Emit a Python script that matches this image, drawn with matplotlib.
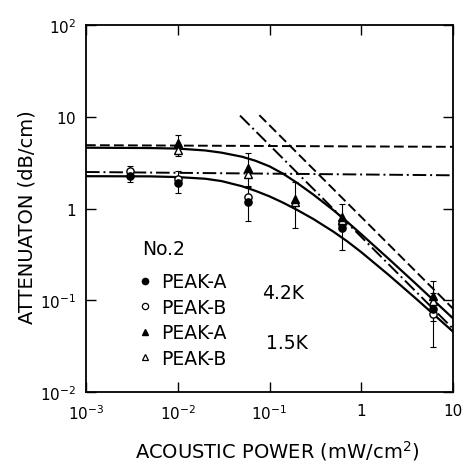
import numpy as np
import matplotlib
matplotlib.use('Agg')
import matplotlib.pyplot as plt
from matplotlib.lines import Line2D

# measured attenuation, 4.2K (circles) and 1.5K (triangles)
power_42 = [0.003, 0.01, 0.058, 0.61, 6.1]
atten_42_a = [2.28, 1.9, 1.17, 0.62, 0.080]
atten_42_b = [2.58, 2.1, 1.32, 0.68, 0.071]
power_15 = [0.01, 0.058, 0.19, 0.61, 6.1]
atten_15_a = [5.17, 2.74, 1.27, 0.80, 0.112]
atten_15_b = [4.38, 2.38, 1.17, 0.74, 0.099]

# error bars (low / high ends)
err_power = [0.003, 0.01, 0.01, 0.058, 0.058, 0.19, 0.61, 6.1, 6.1]
err_low = [1.93, 1.46, 3.76, 0.73, 1.75, 0.62, 0.356, 0.031, 0.06]
err_high = [2.93, 2.56, 6.3, 1.71, 4.03, 1.93, 1.12, 0.12, 0.163]

# fitted curves
curve_power = [0.001, 0.005, 0.01, 0.02, 0.03, 0.05, 0.07, 0.1, 0.14, 0.2, 0.3, 0.5, 0.7, 1, 2, 4, 10]
curve_15 = [4.6, 4.56, 4.5, 4.29, 4.06, 3.67, 3.32, 2.88, 2.40, 1.90, 1.42, 0.954, 0.719,
            0.525, 0.2815, 0.149, 0.0635]
curve_42 = [2.25, 2.24, 2.2, 2.11, 1.99, 1.75, 1.56, 1.356, 1.16, 0.965, 0.769, 0.557, 0.44,
            0.3345, 0.188, 0.103, 0.0455]

# asymptotes
flat_power = [0.001, 10.0]
flat_15 = [4.9, 4.7]
flat_42 = [2.5, 2.3]
slope_15_power = [0.0775, 10.0]
slope_15 = [10.4, 0.081]
slope_42_power = [0.0477, 10.0]
slope_42 = [10.3, 0.049]

xticks = [1e-3, 1e-2, 1e-1, 1, 10]
xticklabels = [r'$\mathregular{10^{-3}}$', r'$\mathregular{10^{-2}}$', r'$\mathregular{10^{-1}}$', '1', '10']
yticks = [1e-2, 1e-1, 1, 10, 100]
yticklabels = [r'$\mathregular{10^{-2}}$', r'$\mathregular{10^{-1}}$', r'$\mathregular{1\;\;}$',
               r'$\mathregular{10\;\;}$', r'$\mathregular{10^{2}}$']

plt.rcParams['font.family'] = 'DejaVu Sans'
plt.rcParams['mathtext.fontset'] = 'dejavusans'

fig = plt.figure(figsize=(4.67, 4.64), dpi=100)
ax = fig.add_axes([86/467, 1 - 393/464, (453 - 86)/467, (393 - 26)/464])

lw = 1.4
ax.plot(flat_power, flat_15, color='k', lw=lw, dashes=(5, 2.2))
ax.plot(slope_15_power, slope_15, color='k', lw=lw, dashes=(5, 2.2))
ax.plot(flat_power, flat_42, color='k', lw=lw, dashes=(7, 2, 1, 2))
ax.plot(slope_42_power, slope_42, color='k', lw=lw, dashes=(7, 2, 1, 2))
ax.plot(curve_power, curve_15, color='k', lw=1.6)
ax.plot(curve_power, curve_42, color='k', lw=1.6)

lo = np.array(err_low)
hi = np.array(err_high)
ax.errorbar(err_power, lo, yerr=[np.zeros_like(lo), hi - lo], fmt='none',
            ecolor='k', elinewidth=0.8, capsize=2.5, capthick=0.8, zorder=3)

ms = 5.2
ax.plot(power_42, atten_42_a, 'o', color='k', ms=ms, zorder=5)
ax.plot(power_42, atten_42_b, 'o', mfc='white', mec='k', mew=1.0, ms=ms, zorder=4)
ax.plot(power_15, atten_15_a, '^', color='k', ms=ms + 0.5, zorder=5)
ax.plot(power_15, atten_15_b, '^', mfc='white', mec='k', mew=1.0, ms=ms + 0.5, zorder=4)

ax.set_xscale('log')
ax.set_yscale('log')
ax.set_xlim(1e-3, 10)
ax.set_ylim(1e-2, 100)
ax.set_xticks(xticks)
ax.set_xticklabels(xticklabels)
ax.set_yticks(yticks)
ax.set_yticklabels(yticklabels)
ax.minorticks_off()
ax.tick_params(which='both', direction='in', top=True, right=True, length=7.5,
               width=1.0, labelsize=11)
ax.tick_params(axis='x', pad=8)
ax.tick_params(axis='y', pad=7)
for s in ax.spines.values():
    s.set_linewidth(1.3)

ax.set_xlabel(r'ACOUSTIC POWER (mW/cm$^{2}$)', fontsize=14)
ax.xaxis.set_label_coords(0.52, -0.125)
ax.set_ylabel('ATTENUATON (dB/cm)', fontsize=14)
ax.yaxis.set_label_coords(-0.135, 0.48)

# legend block
ax.text(0.152, 0.392, 'No.2', fontsize=13.5, va='center', ha='left', transform=ax.transAxes)
handles = [
    Line2D([], [], ls='none', marker='o', color='k', ms=4.5),
    Line2D([], [], ls='none', marker='o', mfc='white', mec='k', mew=0.9, ms=4.5),
    Line2D([], [], ls='none', marker='^', color='k', ms=4.5),
    Line2D([], [], ls='none', marker='^', mfc='white', mec='k', mew=0.9, ms=4.5),
]
ax.legend(handles, ['PEAK-A', 'PEAK-B', 'PEAK-A', 'PEAK-B'], loc='upper left',
          bbox_to_anchor=(0.141, 0.326), frameon=False, fontsize=13.5,
          handlelength=0.8, handletextpad=0.45, labelspacing=0.35, borderpad=0,
          borderaxespad=0)
ax.text(0.481, 0.272, '4.2K', fontsize=13.5, va='center', ha='left', transform=ax.transAxes)
ax.text(0.49, 0.136, '1.5K', fontsize=13.5, va='center', ha='left', transform=ax.transAxes)

fig.savefig('out.png', dpi=100)
